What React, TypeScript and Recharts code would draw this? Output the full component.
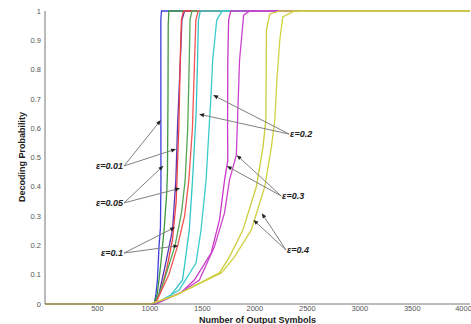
import React from "react";
import { LineChart, Line, XAxis, YAxis, ReferenceLine } from "recharts";

// decoding probability curves, [symbols, probability]
const blueA: [number, number][] = [[0, 0], [1040, 0], [1056, 0.03], [1071, 0.08], [1087, 0.2], [1100, 0.26], [1105, 0.42], [1104, 0.7], [1104, 0.97], [1110, 1], [4050, 1]];
const greenA: [number, number][] = [[0, 0], [1040, 0], [1071, 0.036], [1104, 0.139], [1135, 0.253], [1160, 0.38], [1167, 0.45], [1172, 0.7], [1174, 0.95], [1180, 1], [4050, 1]];
const blueB: [number, number][] = [[0, 0], [1045, 0], [1087, 0.036], [1151, 0.14], [1215, 0.253], [1247, 0.423], [1263, 0.606], [1290, 0.833], [1305, 0.97], [1330, 1], [4050, 1]];
const redA: [number, number][] = [[0, 0], [1050, 0], [1100, 0.04], [1160, 0.12], [1215, 0.22], [1250, 0.35], [1275, 0.6], [1290, 0.85], [1300, 0.97], [1320, 1], [4050, 1]];
const greenB: [number, number][] = [[0, 0], [1050, 0], [1135, 0.08], [1240, 0.2], [1300, 0.31], [1335, 0.42], [1360, 0.6], [1375, 0.83], [1382, 0.97], [1400, 1], [4050, 1]];
const redB: [number, number][] = [[0, 0], [1050, 0], [1180, 0.1], [1265, 0.2], [1330, 0.3], [1370, 0.42], [1405, 0.6], [1425, 0.83], [1438, 0.97], [1460, 1], [4050, 1]];
const cyanA: [number, number][] = [[0, 0], [1050, 0], [1200, 0.03], [1311, 0.082], [1375, 0.253], [1406, 0.423], [1440, 0.65], [1454, 0.833], [1462, 0.97], [1480, 1], [4050, 1]];
const cyanB: [number, number][] = [[0, 0], [1050, 0], [1279, 0.048], [1439, 0.14], [1487, 0.253], [1535, 0.423], [1583, 0.72], [1598, 0.833], [1637, 0.97], [1690, 1], [4050, 1]];
const magentaA: [number, number][] = [[0, 0], [1050, 0], [1300, 0.04], [1423, 0.082], [1583, 0.174], [1663, 0.287], [1711, 0.423], [1742, 0.49], [1740, 0.6], [1742, 0.833], [1750, 0.97], [1770, 1], [4050, 1]];
const magentaB: [number, number][] = [[0, 0], [1050, 0], [1300, 0.04], [1471, 0.082], [1615, 0.196], [1710, 0.31], [1758, 0.423], [1823, 0.508], [1838, 0.662], [1854, 0.833], [1893, 0.986], [1950, 1], [4050, 1]];
const yellowA: [number, number][] = [[0, 0], [1000, 0], [1247, 0.03], [1662, 0.106], [1758, 0.161], [1886, 0.253], [2014, 0.4], [2078, 0.537], [2105, 0.63], [2110, 0.935], [2142, 0.99], [2237, 1], [4050, 1]];
const yellowB: [number, number][] = [[0, 0], [1000, 0], [1247, 0.03], [1681, 0.106], [1806, 0.161], [1966, 0.253], [2094, 0.4], [2158, 0.537], [2190, 0.628], [2210, 0.765], [2237, 0.9], [2266, 0.98], [2362, 0.998], [2525, 1], [4050, 1]];

const xTicks = [500, 1000, 1500, 2000, 2500, 3000, 3500, 4000];
const yTicks = [0, 0.1, 0.2, 0.3, 0.4, 0.5, 0.6, 0.7, 0.8, 0.9, 1];

// annotation label, where its arrows start, and the points they point at
const labelText = ["ε=0.01", "ε=0.05", "ε=0.1", "ε=0.2", "ε=0.3", "ε=0.4"];
const labelFrom: [number, number][] = [[753, 0.471], [753, 0.345], [753, 0.174], [2326, 0.58], [2250, 0.369], [2297, 0.184]];
const labelTo: [number, number][][] = [
  [[1104, 0.628], [1249, 0.529]],
  [[1128, 0.472], [1287, 0.395]],
  [[1239, 0.262], [1271, 0.199]],
  [[1602, 0.713], [1468, 0.648]],
  [[1827, 0.508], [1732, 0.471]],
  [[1986, 0.287], [2066, 0.31]],
];

const series = [
  { name: "blueA", data: blueA, color: "#3d3ddc" },
  { name: "greenA", data: greenA, color: "#3f9a3f" },
  { name: "blueB", data: blueB, color: "#5a34b4" },
  { name: "redA", data: redA, color: "#ee4444" },
  { name: "greenB", data: greenB, color: "#55a655" },
  { name: "redB", data: redB, color: "#f25555" },
  { name: "cyanA", data: cyanA, color: "#33c6c6" },
  { name: "cyanB", data: cyanB, color: "#3ccccc" },
  { name: "magentaA", data: magentaA, color: "#c83ac8" },
  { name: "magentaB", data: magentaB, color: "#cc44cc" },
  { name: "yellowA", data: yellowA, color: "#cccc3c" },
  { name: "yellowB", data: yellowB, color: "#d0d044" },
];

const font = "Arial, 'Liberation Sans', sans-serif";

const ArrowShape = (props: any) => {
  const { x1, y1, x2, y2, text, left } = props;
  const a = Math.atan2(y2 - y1, x2 - x1);
  const L = 5, W = 2;
  const bx = x2 - L * Math.cos(a), by = y2 - L * Math.sin(a);
  const px = -Math.sin(a) * W, py = Math.cos(a) * W;
  return (
    <g>
      <line x1={x1} y1={y1} x2={bx} y2={by} stroke="#808080" strokeWidth={1} />
      <polygon points={`${x2},${y2} ${bx + px},${by + py} ${bx - px},${by - py}`} fill="#222" />
      {text ? (
        <text x={left ? x1 - 1 : x1 + 1} y={y1 + 3} textAnchor={left ? "end" : "start"} fontSize={9} fontWeight="bold" fontStyle="italic" fontFamily={font} fill="#222">
          {text}
        </text>
      ) : null}
    </g>
  );
};

const blank = () => <g />;

export default function App() {
  return (
    <div style={{ position: "absolute", left: 0, top: 0, background: "#fff" }}>
      <LineChart width={471} height={324} margin={{ top: 11, right: 1, bottom: 0, left: 0 }}>
        <XAxis
          type="number"
          dataKey="x"
          domain={[0, 4050]}
          ticks={xTicks}
          allowDataOverflow
          height={20}
          tickLine={false}
          tickSize={0}
          tickMargin={2}
          axisLine={{ stroke: "#777" }}
          tick={{ fontSize: 7.5, fill: "#555", fontFamily: font }}
          label={{ value: "Number of Output Symbols", position: "insideBottom", offset: 1, fontSize: 9, fontWeight: "bold", fill: "#222", fontFamily: font }}
        />
        <XAxis xAxisId="bm" type="number" domain={[0, 4050]} ticks={xTicks} orientation="bottom" mirror height={0} tickSize={3} tick={blank} axisLine={false} tickLine={{ stroke: "#777" }} />
        <XAxis xAxisId="top" type="number" domain={[0, 4050]} ticks={xTicks} orientation="top" mirror height={0} tickSize={3} tick={blank} axisLine={{ stroke: "#777" }} tickLine={{ stroke: "#777" }} />
        <YAxis
          type="number"
          domain={[0, 1]}
          ticks={yTicks}
          width={45}
          tickLine={false}
          tickSize={0}
          tickMargin={4}
          axisLine={{ stroke: "#777" }}
          tick={{ fontSize: 7.5, fill: "#555", fontFamily: font }}
          label={{
            content: () => (
              <text x={25} y={157} transform="rotate(-90 25 157)" textAnchor="middle" fontSize={9} fontWeight="bold" fontFamily={font} fill="#222">
                Decoding Probability
              </text>
            ),
          }}
        />
        <YAxis yAxisId="lm" type="number" domain={[0, 1]} ticks={yTicks} orientation="left" mirror width={0} tickSize={3} tick={blank} axisLine={false} tickLine={{ stroke: "#777" }} />
        <YAxis yAxisId="right" type="number" domain={[0, 1]} ticks={yTicks} orientation="right" mirror width={0} tickSize={3} tick={blank} axisLine={{ stroke: "#777" }} tickLine={{ stroke: "#777" }} />
        {series.map((s) => (
          <Line
            key={s.name}
            data={s.data.map(([x, y]) => ({ x, y }))}
            dataKey="y"
            type="linear"
            stroke={s.color}
            strokeWidth={1.3}
            dot={false}
            activeDot={false}
            isAnimationActive={false}
          />
        ))}
        {labelTo.map((targets, i) =>
          targets.map((t, j) => (
            <ReferenceLine
              key={`${i}-${j}`}
              segment={[{ x: labelFrom[i][0], y: labelFrom[i][1] }, { x: t[0], y: t[1] }]}
              ifOverflow="visible"
              shape={(p: any) => <ArrowShape {...p} text={j === 0 ? labelText[i] : null} left={i < 3} />}
            />
          ))
        )}
      </LineChart>
    </div>
  );
}
